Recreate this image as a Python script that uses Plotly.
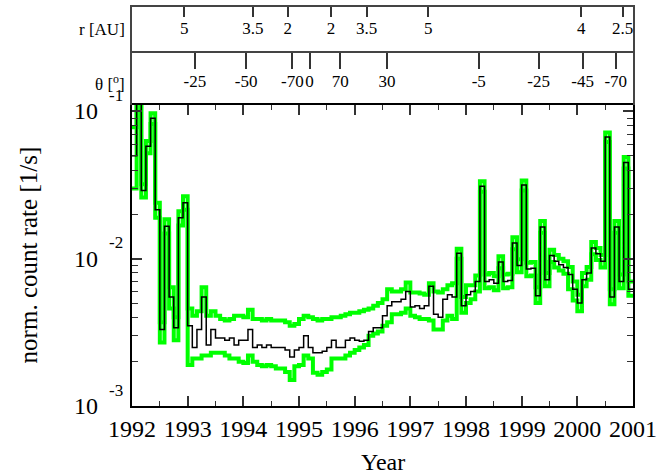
import numpy as np
import plotly.graph_objects as go

# ---------------- data ----------------
# monthly bins starting 1992.0
rate = [
    0.050, 0.150, 0.029, 0.058, 0.090, 0.0215, 0.0033, 0.0166, 0.0055, 0.0034, 0.0190, 0.0240,   # 1992
    0.0035, 0.0025, 0.0033, 0.0055, 0.0026, 0.0033, 0.0029, 0.0029, 0.0028, 0.0029, 0.0026, 0.0028,  # 1993
    0.0028, 0.0033, 0.0025, 0.0026, 0.0025, 0.0026, 0.0025, 0.0025, 0.0025, 0.0024, 0.00215, 0.0024,  # 1994
    0.0025, 0.0030, 0.0025, 0.0023, 0.0023, 0.00235, 0.0025, 0.0028, 0.0025, 0.0025, 0.0028, 0.0029,  # 1995
    0.0028, 0.00275, 0.0028, 0.0032, 0.0034, 0.0034, 0.0041, 0.0048, 0.0051, 0.0051, 0.0053, 0.0060,  # 1996
    0.0047, 0.0048, 0.0046, 0.0048, 0.0065, 0.0042, 0.0040, 0.0053, 0.0057, 0.0055, 0.0109, 0.0048,  # 1997
    0.0057, 0.0060, 0.0070, 0.0310, 0.0070, 0.0072, 0.0068, 0.0095, 0.0070, 0.0071, 0.0128, 0.0090,  # 1998
    0.0316, 0.0085, 0.0086, 0.0056, 0.0164, 0.0072, 0.0105, 0.0096, 0.0091, 0.0087, 0.0078, 0.0062,  # 1999
    0.0050, 0.0072, 0.0080, 0.0118, 0.0108, 0.0096, 0.0670, 0.0055, 0.0164, 0.0070, 0.0450, 0.0062,  # 2000
]
rate_upper = [
    0.078, 0.160, 0.032, 0.063, 0.097, 0.024, 0.0037, 0.0185, 0.0064, 0.0040, 0.021, 0.0265,
    0.0046, 0.0041, 0.0044, 0.0064, 0.0041, 0.0044, 0.0041, 0.0039, 0.0038, 0.0039, 0.0041, 0.0041,
    0.0040, 0.0045, 0.0039, 0.0039, 0.0038, 0.0039, 0.0038, 0.0038, 0.0038, 0.0037, 0.0035, 0.0036,
    0.0039, 0.0041, 0.0040, 0.0039, 0.0038, 0.0039, 0.0039, 0.0040, 0.0040, 0.0041, 0.0042, 0.0043,
    0.0043, 0.0044, 0.0045, 0.0046, 0.0048, 0.0050, 0.0053, 0.0062, 0.0060, 0.0060, 0.0062, 0.0069,
    0.0059, 0.0059, 0.0058, 0.0057, 0.0068, 0.0060, 0.0059, 0.0062, 0.0066, 0.0068, 0.0117, 0.0055,
    0.0066, 0.0066, 0.0077, 0.0335, 0.0078, 0.0080, 0.0076, 0.0104, 0.0078, 0.0079, 0.0140, 0.0099,
    0.0340, 0.0094, 0.0095, 0.0064, 0.0180, 0.0080, 0.0115, 0.0106, 0.0100, 0.0096, 0.0088, 0.0070,
    0.0057, 0.0080, 0.0088, 0.0130, 0.0118, 0.0106, 0.0720, 0.0062, 0.0180, 0.0078, 0.0490, 0.0070,
]
rate_lower = [
    0.030, 0.140, 0.026, 0.052, 0.082, 0.019, 0.0027, 0.0148, 0.0046, 0.0028, 0.0168, 0.0215,
    0.0019, 0.0021, 0.0021, 0.0022, 0.0022, 0.0023, 0.0023, 0.0023, 0.0022, 0.0021, 0.0021, 0.0020,
    0.00196, 0.0022, 0.0020, 0.0019, 0.00186, 0.0019, 0.00186, 0.0018, 0.0018, 0.0017, 0.0015, 0.00186,
    0.0019, 0.0022, 0.0021, 0.00168, 0.00163, 0.0017, 0.00177, 0.0021, 0.0021, 0.0021, 0.0022, 0.0023,
    0.0024, 0.0025, 0.0026, 0.0030, 0.0031, 0.0032, 0.0035, 0.0037, 0.0042, 0.0042, 0.0043, 0.0046,
    0.0041, 0.0040, 0.0039, 0.0039, 0.0038, 0.0033, 0.0033, 0.0038, 0.0041, 0.0039, 0.0100, 0.0043,
    0.0050, 0.0053, 0.0060, 0.0285, 0.0063, 0.0064, 0.0061, 0.0086, 0.0063, 0.0064, 0.0116, 0.0081,
    0.0290, 0.0076, 0.0077, 0.0050, 0.0150, 0.0065, 0.0095, 0.0087, 0.0083, 0.0079, 0.0062, 0.0052,
    0.0044, 0.0065, 0.0072, 0.0107, 0.0098, 0.0087, 0.0620, 0.0049, 0.0150, 0.0063, 0.0410, 0.0056,
]
bin_edges = 1992 + np.arange(len(rate) + 1) / 12.0

year_ticks = list(range(1992, 2002))
ytick_vals = [1e-3, 1e-2, 1e-1]

r_tick_years = [1992.94, 1994.17, 1994.80, 1995.575, 1996.215, 1997.32, 2000.07, 2000.815]
r_tick_labels = ["5", "3.5", "2", "2", "3.5", "5", "4", "2.5"]
theta_tick_years = [1993.13, 1994.05, 1994.88, 1995.19, 1995.74, 1996.58, 1998.23, 1999.305, 2000.095, 2000.69]
theta_tick_labels = ["-25", "-50", "-70", "0", "70", "30", "-5", "-25", "-45", "-70"]

# ---------------- figure ----------------
FONT = "Liberation Serif"
GREEN = "#00ff00"

def step_y(vals):
    return list(vals) + [vals[-1]]

fig = go.Figure()
for band in (rate_upper, rate_lower):
    fig.add_trace(go.Scatter(x=bin_edges, y=step_y(band), mode="lines", line_shape="hv",
                             line=dict(color=GREEN, width=4), xaxis="x", yaxis="y",
                             showlegend=False, hoverinfo="skip"))
fig.add_trace(go.Scatter(x=bin_edges, y=step_y(rate), mode="lines", line_shape="hv",
                         line=dict(color="black", width=1.5), xaxis="x", yaxis="y",
                         showlegend=False))

# top panels labels
fig.add_trace(go.Scatter(x=theta_tick_years, y=[0.42] * len(theta_tick_years), mode="text",
                         text=theta_tick_labels, textfont=dict(family=FONT, size=17, color="black"),
                         xaxis="x2", yaxis="y2", showlegend=False, hoverinfo="skip"))
fig.add_trace(go.Scatter(x=r_tick_years, y=[0.5] * len(r_tick_years), mode="text",
                         text=r_tick_labels, textfont=dict(family=FONT, size=17, color="black"),
                         xaxis="x3", yaxis="y3", showlegend=False, hoverinfo="skip"))

main_top = 0.755
theta_top = 0.8855

annotations = [
    dict(text="r [AU]", xref="paper", x=0, xanchor="right", xshift=-5,
         yref="y3 domain", y=0.5, yanchor="middle", showarrow=False,
         font=dict(family=FONT, size=17)),
    dict(text="θ [<sup>o</sup>]", xref="paper", x=0, xanchor="right", xshift=-5,
         yref="y2 domain", y=0.42, yanchor="middle", showarrow=False,
         font=dict(family=FONT, size=17)),
    dict(text="norm. count rate [1/s]", xref="paper", x=0, xshift=-104,
         xanchor="center", yref="y domain", y=0.5, yanchor="middle",
         textangle=-90, showarrow=False, font=dict(family=FONT, size=25)),
    dict(text="Year", xref="paper", x=0.5, xanchor="center",
         yref="y domain", y=0, yshift=-56, yanchor="middle",
         showarrow=False, font=dict(family=FONT, size=24)),
]
# y tick labels: "10" with a raised exponent, placed at the tick values
for v in ytick_vals:
    e = int(round(np.log10(v)))
    annotations.append(dict(text="10", xref="paper", x=0, xanchor="right", xshift=-32,
                            yref="y", y=e, yanchor="middle", showarrow=False,
                            font=dict(family=FONT, size=24)))
    annotations.append(dict(text=str(e), xref="paper", x=0, xanchor="left", xshift=-25,
                            yref="y", y=e, yanchor="middle", yshift=16, showarrow=False,
                            font=dict(family=FONT, size=17)))

common_off = dict(showgrid=False, zeroline=False, automargin=False)

fig.update_layout(
    width=668, height=476,
    margin=dict(l=132, r=35, t=7, b=70, autoexpand=False),
    paper_bgcolor="white", plot_bgcolor="white",
    font=dict(family=FONT, size=24, color="black"),
    xaxis=dict(range=[1992, 2001], domain=[0, 1], tickvals=year_ticks,
               ticks="inside", ticklen=10, tickwidth=1.5, tickcolor="#333",
               showline=True, linecolor="black", linewidth=2, mirror="ticks",
               tickfont=dict(family=FONT, size=24), ticklabelstandoff=0,
               minor=dict(dtick=0.5, ticks="inside", ticklen=5, tickwidth=1.2, tickcolor="#333"),
               **common_off),
    yaxis=dict(type="log", range=[-3, -0.955], domain=[0, main_top],
               tickvals=ytick_vals, showticklabels=False,
               ticks="inside", ticklen=10, tickwidth=1.5, tickcolor="#333",
               showline=True, linecolor="black", linewidth=2, mirror="ticks",
               minor=dict(tickvals=[m * 10.0 ** e for e in (-3, -2, -1) for m in range(2, 10)],
                          ticks="inside", ticklen=6, tickwidth=1.2, tickcolor="#333"),
               **common_off),
    xaxis2=dict(range=[1992, 2001], domain=[0, 1], anchor="y2", side="top",
                tickvals=theta_tick_years, showticklabels=False,
                ticks="inside", ticklen=16, tickwidth=1.5, tickcolor="#333",
                showline=True, linecolor="#444", linewidth=2, mirror=False, **common_off),
    yaxis2=dict(range=[0, 1], domain=[main_top, theta_top], anchor="x2",
                showticklabels=False, ticks="", showline=True, linecolor="#444",
                linewidth=2, mirror=True, **common_off),
    xaxis3=dict(range=[1992, 2001], domain=[0, 1], anchor="y3", side="top",
                tickvals=r_tick_years, showticklabels=False,
                ticks="inside", ticklen=10, tickwidth=1.5, tickcolor="#333",
                showline=True, linecolor="#444", linewidth=2, mirror=False, **common_off),
    yaxis3=dict(range=[0, 1], domain=[theta_top, 1], anchor="x3",
                showticklabels=False, ticks="", showline=True, linecolor="#444",
                linewidth=2, mirror=True, **common_off),
    annotations=annotations,
)

fig.write_html("out.html")
